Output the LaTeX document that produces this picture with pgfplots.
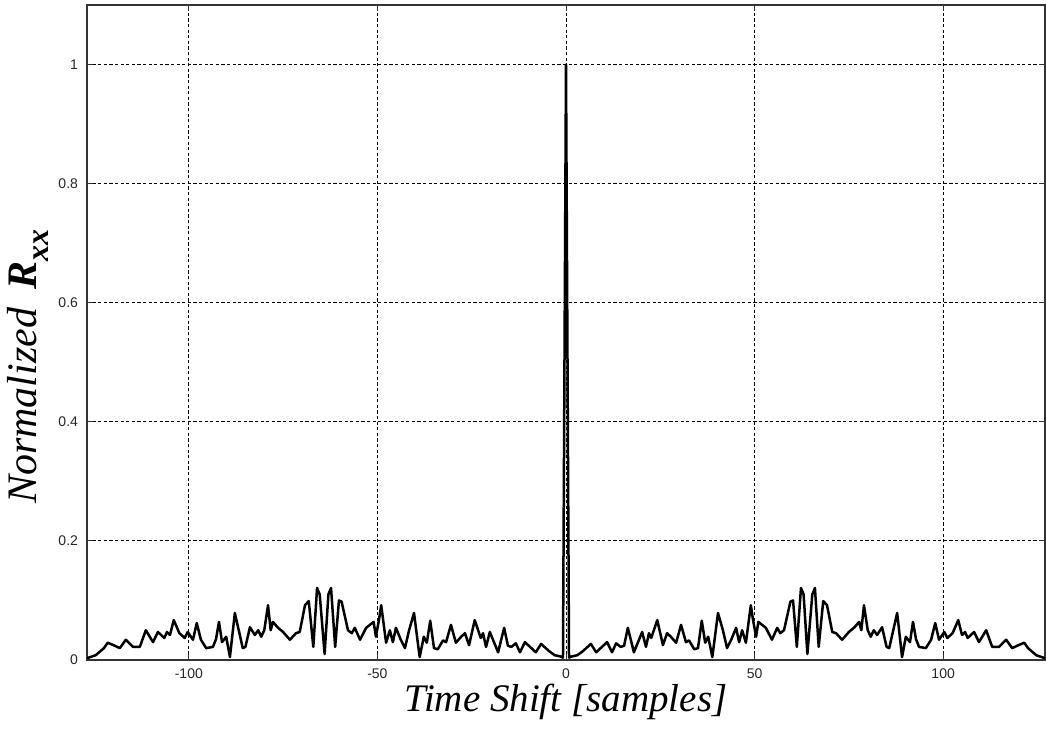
\documentclass[border=0pt]{standalone}
\usepackage{pgfplots}
\pgfplotsset{compat=1.18}
\usepackage{fontspec}
\setmainfont{Liberation Serif}
\setsansfont{Liberation Sans}
\begin{document}
\begin{tikzpicture}
\begin{axis}[
  scale only axis,
  width=479pt, height=327.5pt,
  xmin=-127, xmax=127, ymin=0, ymax=1.1,
  xtick={-100,-50,0,50,100},
  ytick={0,0.2,0.4,0.6,0.8,1},
  tick align=inside,
  major tick length=3pt,
  tick style={black!80, line width=0.5pt},
  axis line style={black!80, line width=0.6pt},
  grid=major,
  major grid style={black, line width=0.45pt, dash pattern=on 1.6pt off 1.2pt},
  ticklabel style={font=\sffamily\fontsize{7}{8}\selectfont, text=black!85},
  /pgf/number format/assume math mode=true,
  xticklabel style={yshift=-1pt},
  yticklabel style={xshift=-1pt},
  xlabel={\itshape Time Shift [samples]},
  xlabel style={font=\fontsize{19.5}{22}\selectfont, at={(axis description cs:0.5,0)}, anchor=center, yshift=-21pt},
  ylabel={\itshape Normalized\hspace{0.45em}\textbf{R}\raisebox{-0.6ex}{\fontsize{16}{16}\selectfont\textbf{xx}}},
  ylabel style={font=\fontsize{21}{23}\selectfont, at={(axis description cs:0,0.5)}, anchor=center, yshift=29.5pt, xshift=-17pt},
  clip=true,
]
\addplot[black, line width=1.25pt, line join=round] coordinates {
(-127,0.003) (-124.7,0.008) (-122.5,0.02) (-121.5,0.029) (-120,0.025) (-118.3,0.02)
(-116.7,0.034) (-114.8,0.022) (-113,0.022) (-111.4,0.05) (-109.5,0.03) (-108.2,0.047)
(-106.5,0.037) (-105.8,0.047) (-105,0.042) (-104,0.067) (-102.5,0.045) (-101.1,0.037)
(-100.3,0.047) (-98.9,0.034) (-97.9,0.062) (-96.8,0.034) (-95.4,0.02) (-93.6,0.022)
(-92.8,0.035) (-92,0.064) (-91.2,0.03) (-90.1,0.039) (-89.1,0.005) (-87.8,0.079)
(-85.7,0.02) (-85,0.022) (-83.8,0.055) (-82.5,0.042) (-81.6,0.05) (-80.8,0.039)
(-80,0.05) (-79,0.092) (-78.3,0.05) (-77.7,0.064) (-76.5,0.055) (-75,0.047)
(-73.2,0.034) (-71.6,0.045) (-70.6,0.047) (-69.2,0.092) (-68.2,0.099) (-67,0.022)
(-66,0.121) (-65.3,0.11) (-64,0.01) (-63,0.11) (-62.3,0.121) (-61.2,0.022)
(-60.2,0.1) (-59.5,0.098) (-57.8,0.05) (-56.8,0.045) (-56,0.054) (-54.6,0.034)
(-53,0.054) (-51,0.064) (-50.4,0.039) (-49.6,0.067) (-49,0.092) (-47.7,0.029)
(-46.7,0.05) (-45.9,0.03) (-45.1,0.054) (-43.8,0.034) (-42.7,0.02) (-41.6,0.05)
(-40.3,0.079) (-38.8,0.005) (-37.7,0.039) (-36.9,0.029) (-36,0.066) (-35,0.02)
(-34,0.018) (-32.6,0.033) (-31.8,0.03) (-30.5,0.059) (-29.2,0.029) (-27.8,0.039)
(-26.8,0.045) (-25.7,0.025) (-24.2,0.067) (-22.6,0.037) (-22,0.045) (-21.2,0.022)
(-20.2,0.047) (-18,0.013) (-16.4,0.054) (-15.4,0.024) (-14.5,0.022) (-13.3,0.028)
(-12.2,0.013) (-10.9,0.03) (-8,0.013) (-6.6,0.027) (-4.5,0.015) (-3,0.008)
(-1.5,0.006) (-0.8,0.004)
(0,1)
(0.8,0.004) (1.5,0.006) (3,0.008) (4.5,0.015) (6.6,0.027) (8,0.013)
(10.9,0.03) (12.2,0.013) (13.3,0.028) (14.5,0.022) (15.4,0.024) (16.4,0.054)
(18,0.013) (20.2,0.047) (21.2,0.022) (22,0.045) (22.6,0.037) (24.2,0.067)
(25.7,0.025) (26.8,0.045) (27.8,0.039) (29.2,0.029) (30.5,0.059) (31.8,0.03)
(32.6,0.033) (34,0.018) (35,0.02) (36,0.066) (36.9,0.029) (37.7,0.039)
(38.8,0.005) (40.3,0.079) (41.6,0.05) (42.7,0.02) (43.8,0.034) (45.1,0.054)
(45.9,0.03) (46.7,0.05) (47.7,0.029) (49,0.092) (49.6,0.067) (50.4,0.039)
(51,0.064) (53,0.054) (54.6,0.034) (56,0.054) (56.8,0.045) (57.8,0.05)
(59.5,0.098) (60.2,0.1) (61.2,0.022) (62.3,0.121) (63,0.11) (64,0.01)
(65.3,0.11) (66,0.121) (67,0.022) (68.2,0.099) (69.2,0.092) (70.6,0.047)
(71.6,0.045) (73.2,0.034) (75,0.047) (76.5,0.055) (77.7,0.064) (78.3,0.05)
(79,0.092) (80,0.05) (80.8,0.039) (81.6,0.05) (82.5,0.042) (83.8,0.055)
(85,0.022) (85.7,0.02) (87.8,0.079) (89.1,0.005) (90.1,0.039) (91.2,0.03)
(92,0.064) (92.8,0.035) (93.6,0.022) (95.4,0.02) (96.8,0.034) (97.9,0.062)
(98.9,0.034) (100.3,0.047) (101.1,0.037) (102.5,0.045) (104,0.067) (105,0.042)
(105.8,0.047) (106.5,0.037) (108.2,0.047) (109.5,0.03) (111.4,0.05) (113,0.022)
(114.8,0.022) (116.7,0.034) (118.3,0.02) (120,0.025) (121.5,0.029) (122.5,0.02)
(124.7,0.008) (127,0.003)
};
\end{axis}
\pgfresetboundingbox
\path (-43.5pt,-34.5pt) rectangle (479.5pt,330pt);
\end{tikzpicture}
\end{document}
